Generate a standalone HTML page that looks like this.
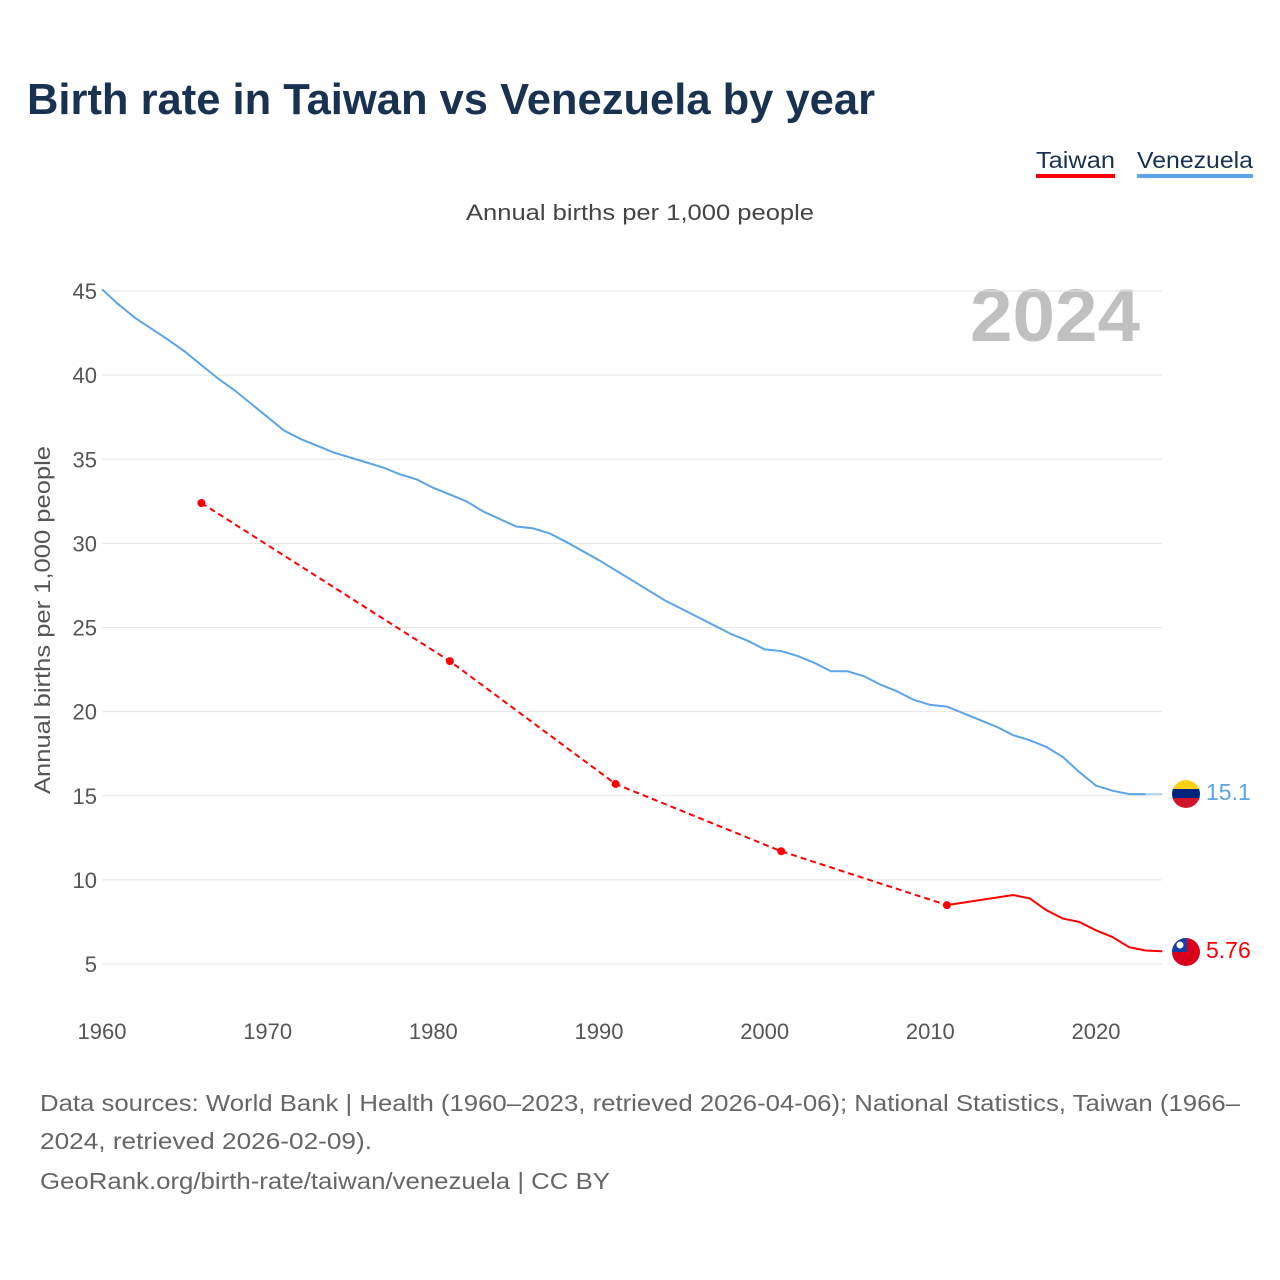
<!DOCTYPE html>
<html><head><meta charset="utf-8"><style>
body{margin:0;background:#fff;font-family:"Liberation Sans",sans-serif;}
#wrap{position:relative;width:1280px;height:1280px;overflow:hidden;}
</style></head><body>
<div id="wrap">
<svg id="chart" width="1280" height="1280">
<text x="27" y="114" font-size="44" font-weight="bold" fill="#1a3252" textLength="848" lengthAdjust="spacingAndGlyphs">Birth rate in Taiwan vs Venezuela by year</text>
<g><text x="1036" y="168" font-size="23" fill="#1a3252" textLength="79" lengthAdjust="spacingAndGlyphs">Taiwan</text><rect x="1036" y="174" width="79" height="4" fill="#ff0000"/></g>
<g><text x="1137" y="168" font-size="23" fill="#1a3252" textLength="116" lengthAdjust="spacingAndGlyphs">Venezuela</text><rect x="1137" y="174" width="116" height="4" fill="#5ba4e8"/></g>
<text x="466" y="220" font-size="22" fill="#444" textLength="348" lengthAdjust="spacingAndGlyphs">Annual births per 1,000 people</text>
<text x="1140" y="341" text-anchor="end" font-size="74" font-weight="bold" fill="#c0c0c0" textLength="170" lengthAdjust="spacingAndGlyphs">2024</text>
<text transform="translate(50,794) rotate(-90)" font-size="22" fill="#555" textLength="348" lengthAdjust="spacingAndGlyphs">Annual births per 1,000 people</text>
<g id="grid"></g><g id="series"></g>
<g>
<clipPath id="cv"><circle cx="1186" cy="794" r="14"/></clipPath>
<g clip-path="url(#cv)"><rect x="1172" y="780" width="28" height="11" fill="#fcd116"/><rect x="1172" y="789" width="28" height="10" fill="#00247d"/><rect x="1172" y="798" width="28" height="10" fill="#cf142b"/></g></g>
<g>
<clipPath id="ct"><circle cx="1186" cy="952" r="14"/></clipPath>
<g clip-path="url(#ct)"><rect x="1172" y="938" width="28" height="28" fill="#d8001a"/><rect x="1172" y="938" width="15" height="14" fill="#1140a8"/><circle cx="1180" cy="945" r="3.5" fill="#fff"/></g></g>
<text x="1206" y="800" font-size="23" fill="#5ba4e8">15.1</text>
<text x="1206" y="958" font-size="23" fill="#ff0000">5.76</text>
<text x="40" y="1111" font-size="23" fill="#666" textLength="1200" lengthAdjust="spacingAndGlyphs">Data sources: World Bank | Health (1960–2023, retrieved 2026-04-06); National Statistics, Taiwan (1966–</text>
<text x="40" y="1149" font-size="23" fill="#666" textLength="332" lengthAdjust="spacingAndGlyphs">2024, retrieved 2026-02-09).</text>
<text x="40" y="1189" font-size="23" fill="#666" textLength="570" lengthAdjust="spacingAndGlyphs">GeoRank.org/birth-rate/taiwan/venezuela | CC BY</text>
</svg>
<script>
const yTicks=[5,10,15,20,25,30,35,40,45];
const xTicks=[1960,1970,1980,1990,2000,2010,2020];
const venYears=[1960,1961,1962,1964,1965,1967,1968,1970,1971,1972,1974,1976,1977,1978,1979,1980,1982,1983,1985,1986,1987,1988,1990,1992,1994,1996,1997,1998,1999,2000,2001,2002,2003,2004,2005,2006,2007,2008,2009,2010,2011,2012,2013,2014,2015,2016,2017,2018,2019,2020,2021,2022,2023];
const venValues=[45.1,44.2,43.4,42.1,41.4,39.8,39.1,37.5,36.7,36.2,35.4,34.8,34.5,34.1,33.8,33.3,32.5,31.9,31.0,30.9,30.6,30.1,29.0,27.8,26.6,25.6,25.1,24.6,24.2,23.7,23.6,23.3,22.9,22.4,22.4,22.1,21.6,21.2,20.7,20.4,20.3,19.9,19.5,19.1,18.6,18.3,17.9,17.3,16.4,15.6,15.3,15.1,15.1];
const twnSparseYears=[1966,1981,1991,2001,2011];
const twnSparseValues=[32.4,23.0,15.7,11.7,8.5];
const twnYears=[2011,2015,2016,2017,2018,2019,2020,2021,2022,2023,2024];
const twnValues=[8.5,9.1,8.9,8.2,7.7,7.5,7.0,6.6,6.0,5.8,5.76];
const X=y=>102+(y-1960)*(1096-102)/60;
const Y=v=>964-(v-5)*(964-291)/40;
const NS="http://www.w3.org/2000/svg";
function mk(p,t,a){const e=document.createElementNS(NS,t);for(const k in a)e.setAttribute(k,a[k]);p.appendChild(e);return e;}
const g=document.getElementById('grid'),s=document.getElementById('series');
yTicks.forEach(v=>{
 const l=mk(g,'line',{x1:102,x2:1162,y1:Y(v),y2:Y(v),stroke:'#e6e6e6','stroke-width':1});
 
 
 const t=mk(g,'text',{x:97,y:Y(v)+8,'text-anchor':'end','font-size':22,fill:'#555'});t.textContent=v;
 
 
});
xTicks.forEach(v=>{
 const t=mk(g,'text',{x:X(v),y:1039,'text-anchor':'middle','font-size':22,fill:'#555'});t.textContent=v;
 
 
});
const pts=(xs,vs)=>xs.map((y,i)=>X(y)+','+Y(vs[i])).join(' ');
const lastV=venValues[venValues.length-1];
const ext=mk(s,'line',{x1:X(2023),y1:Y(lastV),x2:X(2024),y2:Y(lastV),stroke:'#5ba4e8','stroke-width':1.2,opacity:0.8});


const vl=mk(s,'polyline',{points:pts(venYears,venValues),fill:'none',stroke:'#5ba4e8','stroke-width':2});


const td=mk(s,'polyline',{points:pts(twnSparseYears,twnSparseValues),fill:'none',stroke:'#ff0000','stroke-width':2,'stroke-dasharray':'6,4'});


const tl=mk(s,'polyline',{points:pts(twnYears,twnValues),fill:'none',stroke:'#ff0000','stroke-width':2});


twnSparseYears.forEach((y,i)=>{
 const c=mk(s,'circle',{cx:X(y),cy:Y(twnSparseValues[i]),r:4,fill:'#ff0000'});
 
 
});
</script>
</div>
</body></html>
